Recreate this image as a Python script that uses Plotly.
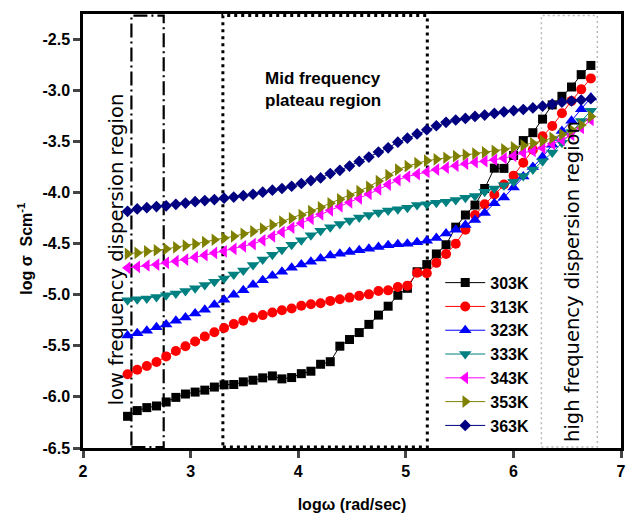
import plotly.graph_objects as go

# log of angular frequency (rad/sec)
log_w = [2.414, 2.504, 2.593, 2.683, 2.773, 2.863, 2.952, 3.042, 3.132, 3.221,
         3.311, 3.401, 3.490, 3.580, 3.670, 3.760, 3.849, 3.939, 4.029, 4.118,
         4.208, 4.298, 4.387, 4.477, 4.567, 4.657, 4.746, 4.836, 4.926, 5.015,
         5.105, 5.195, 5.284, 5.374, 5.464, 5.554, 5.643, 5.733, 5.823, 5.912,
         6.002, 6.092, 6.181, 6.271, 6.361, 6.451, 6.540, 6.630, 6.720]

# log conductivity (S/cm) for each temperature
s_303 = [-6.190, -6.134, -6.105, -6.089, -6.050, -6.005, -5.972, -5.953, -5.934, -5.904,
         -5.882, -5.879, -5.853, -5.837, -5.814, -5.795, -5.824, -5.811, -5.773, -5.749,
         -5.681, -5.656, -5.504, -5.439, -5.371, -5.291, -5.200, -5.113, -5.006, -4.938,
         -4.776, -4.706, -4.602, -4.512, -4.340, -4.221, -4.124, -3.962, -3.763, -3.765,
         -3.639, -3.493, -3.416, -3.283, -3.144, -3.060, -2.969, -2.848, -2.758]
s_313 = [-5.778, -5.734, -5.698, -5.659, -5.604, -5.552, -5.504, -5.458, -5.410, -5.368,
         -5.326, -5.288, -5.255, -5.223, -5.200, -5.174, -5.152, -5.135, -5.109, -5.094,
         -5.084, -5.061, -5.045, -5.029, -5.012, -4.997, -4.964, -4.958, -4.925, -4.912,
         -4.786, -4.791, -4.689, -4.602, -4.502, -4.366, -4.221, -4.117, -4.020, -3.923,
         -3.836, -3.710, -3.583, -3.451, -3.351, -3.225, -3.105, -2.992, -2.885]
s_323 = [-5.400, -5.378, -5.352, -5.320, -5.293, -5.255, -5.223, -5.184, -5.148, -5.099,
         -5.051, -5.002, -4.958, -4.903, -4.859, -4.815, -4.776, -4.738, -4.706, -4.678,
         -4.647, -4.618, -4.599, -4.582, -4.566, -4.550, -4.534, -4.517, -4.508, -4.502,
         -4.488, -4.473, -4.447, -4.401, -4.366, -4.318, -4.269, -4.201, -4.107, -4.049,
         -3.952, -3.845, -3.751, -3.654, -3.535, -3.399, -3.299, -3.186, -3.072]
s_333 = [-5.055, -5.045, -5.038, -5.022, -5.006, -4.990, -4.964, -4.938, -4.905, -4.873,
         -4.841, -4.803, -4.764, -4.710, -4.657, -4.609, -4.560, -4.512, -4.469, -4.420,
         -4.376, -4.340, -4.308, -4.275, -4.246, -4.221, -4.197, -4.178, -4.165, -4.149,
         -4.124, -4.117, -4.100, -4.091, -4.075, -4.052, -4.034, -3.994, -3.962, -3.930,
         -3.897, -3.840, -3.777, -3.695, -3.610, -3.515, -3.409, -3.302, -3.202]
s_343 = [-4.738, -4.728, -4.715, -4.706, -4.689, -4.673, -4.657, -4.634, -4.614, -4.592,
         -4.576, -4.553, -4.527, -4.505, -4.469, -4.430, -4.388, -4.345, -4.301, -4.258,
         -4.214, -4.175, -4.136, -4.097, -4.059, -4.015, -3.971, -3.923, -3.879, -3.845,
         -3.821, -3.800, -3.777, -3.758, -3.739, -3.719, -3.705, -3.695, -3.680, -3.666,
         -3.642, -3.613, -3.593, -3.564, -3.525, -3.486, -3.438, -3.370, -3.292]
s_353 = [-4.602, -4.592, -4.576, -4.566, -4.553, -4.537, -4.521, -4.505, -4.485, -4.463,
         -4.447, -4.430, -4.405, -4.382, -4.353, -4.318, -4.285, -4.253, -4.221, -4.182,
         -4.146, -4.107, -4.068, -4.027, -3.988, -3.945, -3.889, -3.831, -3.777, -3.743,
         -3.714, -3.690, -3.676, -3.661, -3.646, -3.632, -3.620, -3.608, -3.593, -3.579,
         -3.559, -3.540, -3.520, -3.496, -3.467, -3.433, -3.389, -3.341, -3.258]
s_363 = [-4.185, -4.162, -4.149, -4.139, -4.131, -4.117, -4.104, -4.091, -4.080, -4.070,
         -4.056, -4.046, -4.032, -4.018, -3.998, -3.978, -3.962, -3.940, -3.913, -3.884,
         -3.858, -3.816, -3.784, -3.742, -3.697, -3.654, -3.606, -3.564, -3.509, -3.470,
         -3.428, -3.387, -3.348, -3.315, -3.292, -3.276, -3.257, -3.244, -3.227, -3.212,
         -3.200, -3.189, -3.174, -3.157, -3.137, -3.118, -3.106, -3.096, -3.084]

temps = ["303K", "313K", "323K", "333K", "343K", "353K", "363K"]
series = [s_303, s_313, s_323, s_333, s_343, s_353, s_363]
colors = ["#000000", "#FF0000", "#0000FF", "#008080", "#FF00FF", "#808000", "#000080"]
symbols = ["square", "circle", "triangle-up", "triangle-down",
           "triangle-left", "triangle-right", "diamond"]
sizes = [9, 10, 11, 11, 11, 11, 9]

# axis ticks
x_ticks = [2, 3, 4, 5, 6, 7]
y_ticks = [-6.5, -6.0, -5.5, -5.0, -4.5, -4.0, -3.5, -3.0, -2.5]
y_tick_text = ["-6.5", "-6.0", "-5.5", "-5.0", "-4.5", "-4.0", "-3.5", "-3.0", "-2.5"]

# region boundaries (log ω)
low_region = (2.45, 2.75)
mid_region = (3.3, 5.2)
high_region = (6.26, 6.78)

X_RANGE = [2, 7]
Y_RANGE = [-6.5, -2.255]

BOLD = dict(family="Liberation Sans, Arial, sans-serif", color="black", weight="bold")

fig = go.Figure()
for name, ys, col, sym, sz in zip(temps, series, colors, symbols, sizes):
    fig.add_trace(go.Scatter(
        x=log_w, y=ys, name=name, mode="lines+markers",
        line=dict(color=col, width=1),
        marker=dict(symbol=sym, size=sz, color=col, line=dict(width=0)),
    ))

# region boxes
fig.add_shape(type="rect", xref="x", yref="y", layer="below",
              x0=low_region[0], x1=low_region[1], y0=-6.49, y1=-2.27,
              line=dict(color="black", width=2.2, dash="14px,4px,2px,4px"))
fig.add_shape(type="rect", xref="x", yref="y", layer="below",
              x0=mid_region[0], x1=mid_region[1], y0=-6.49, y1=-2.27,
              line=dict(color="black", width=3, dash="3px,4px"))
fig.add_shape(type="rect", xref="x", yref="y", layer="below",
              x0=high_region[0], x1=high_region[1], y0=-6.49, y1=-2.27,
              line=dict(color="#b8b8b8", width=1.5, dash="2px,3px"))

# region labels
fig.add_annotation(x=2.313, y=-4.56, xref="x", yref="y", showarrow=False,
                   text="low frequency dispersion region", textangle=-90,
                   font=dict(family="DejaVu Sans, sans-serif", size=19.5, color="black"))
fig.add_annotation(x=6.55, y=-4.87, xref="x", yref="y", showarrow=False,
                   text="high frequency dispersion region", textangle=-90,
                   font=dict(family="DejaVu Sans, sans-serif", size=19.5, color="black"))
fig.add_annotation(x=3.676, y=-2.99, xref="x", yref="y", showarrow=False,
                   xanchor="left", yanchor="middle", align="left",
                   text="Mid frequency<br>plateau region",
                   font=dict(size=17, **BOLD))

# y-axis title
fig.add_annotation(x=-0.107, y=0.46, xref="paper", yref="paper", showarrow=False,
                   text="log σ  Scm<sup>-1</sup>", textangle=-90,
                   xanchor="center", yanchor="middle",
                   font=dict(size=16, **BOLD))

fig.update_xaxes(range=X_RANGE, tickvals=x_ticks,
                 ticks="outside", ticklen=7, tickwidth=2.5,
                 showline=True, linewidth=2.5, linecolor="black", mirror=True,
                 showgrid=False, zeroline=False,
                 tickfont=dict(size=16, **BOLD),
                 title=dict(text="logω (rad/sec)", font=dict(size=16, **BOLD), standoff=20))
fig.update_yaxes(range=Y_RANGE, tickvals=y_ticks, ticktext=y_tick_text,
                 ticks="outside", ticklen=7, tickwidth=2.5,
                 showline=True, linewidth=2.5, linecolor="black", mirror=True,
                 showgrid=False, zeroline=False,
                 tickfont=dict(size=16, **BOLD))

fig.update_layout(
    width=629, height=514,
    margin=dict(l=83, r=3, t=14, b=62),
    paper_bgcolor="white", plot_bgcolor="white",
    showlegend=True,
    legend=dict(x=0.664, y=0.42, xanchor="left", yanchor="top",
                itemwidth=40,
                bgcolor="rgba(0,0,0,0)", borderwidth=0,
                font=dict(size=16, **BOLD)),
)

fig.write_html("out.html")
